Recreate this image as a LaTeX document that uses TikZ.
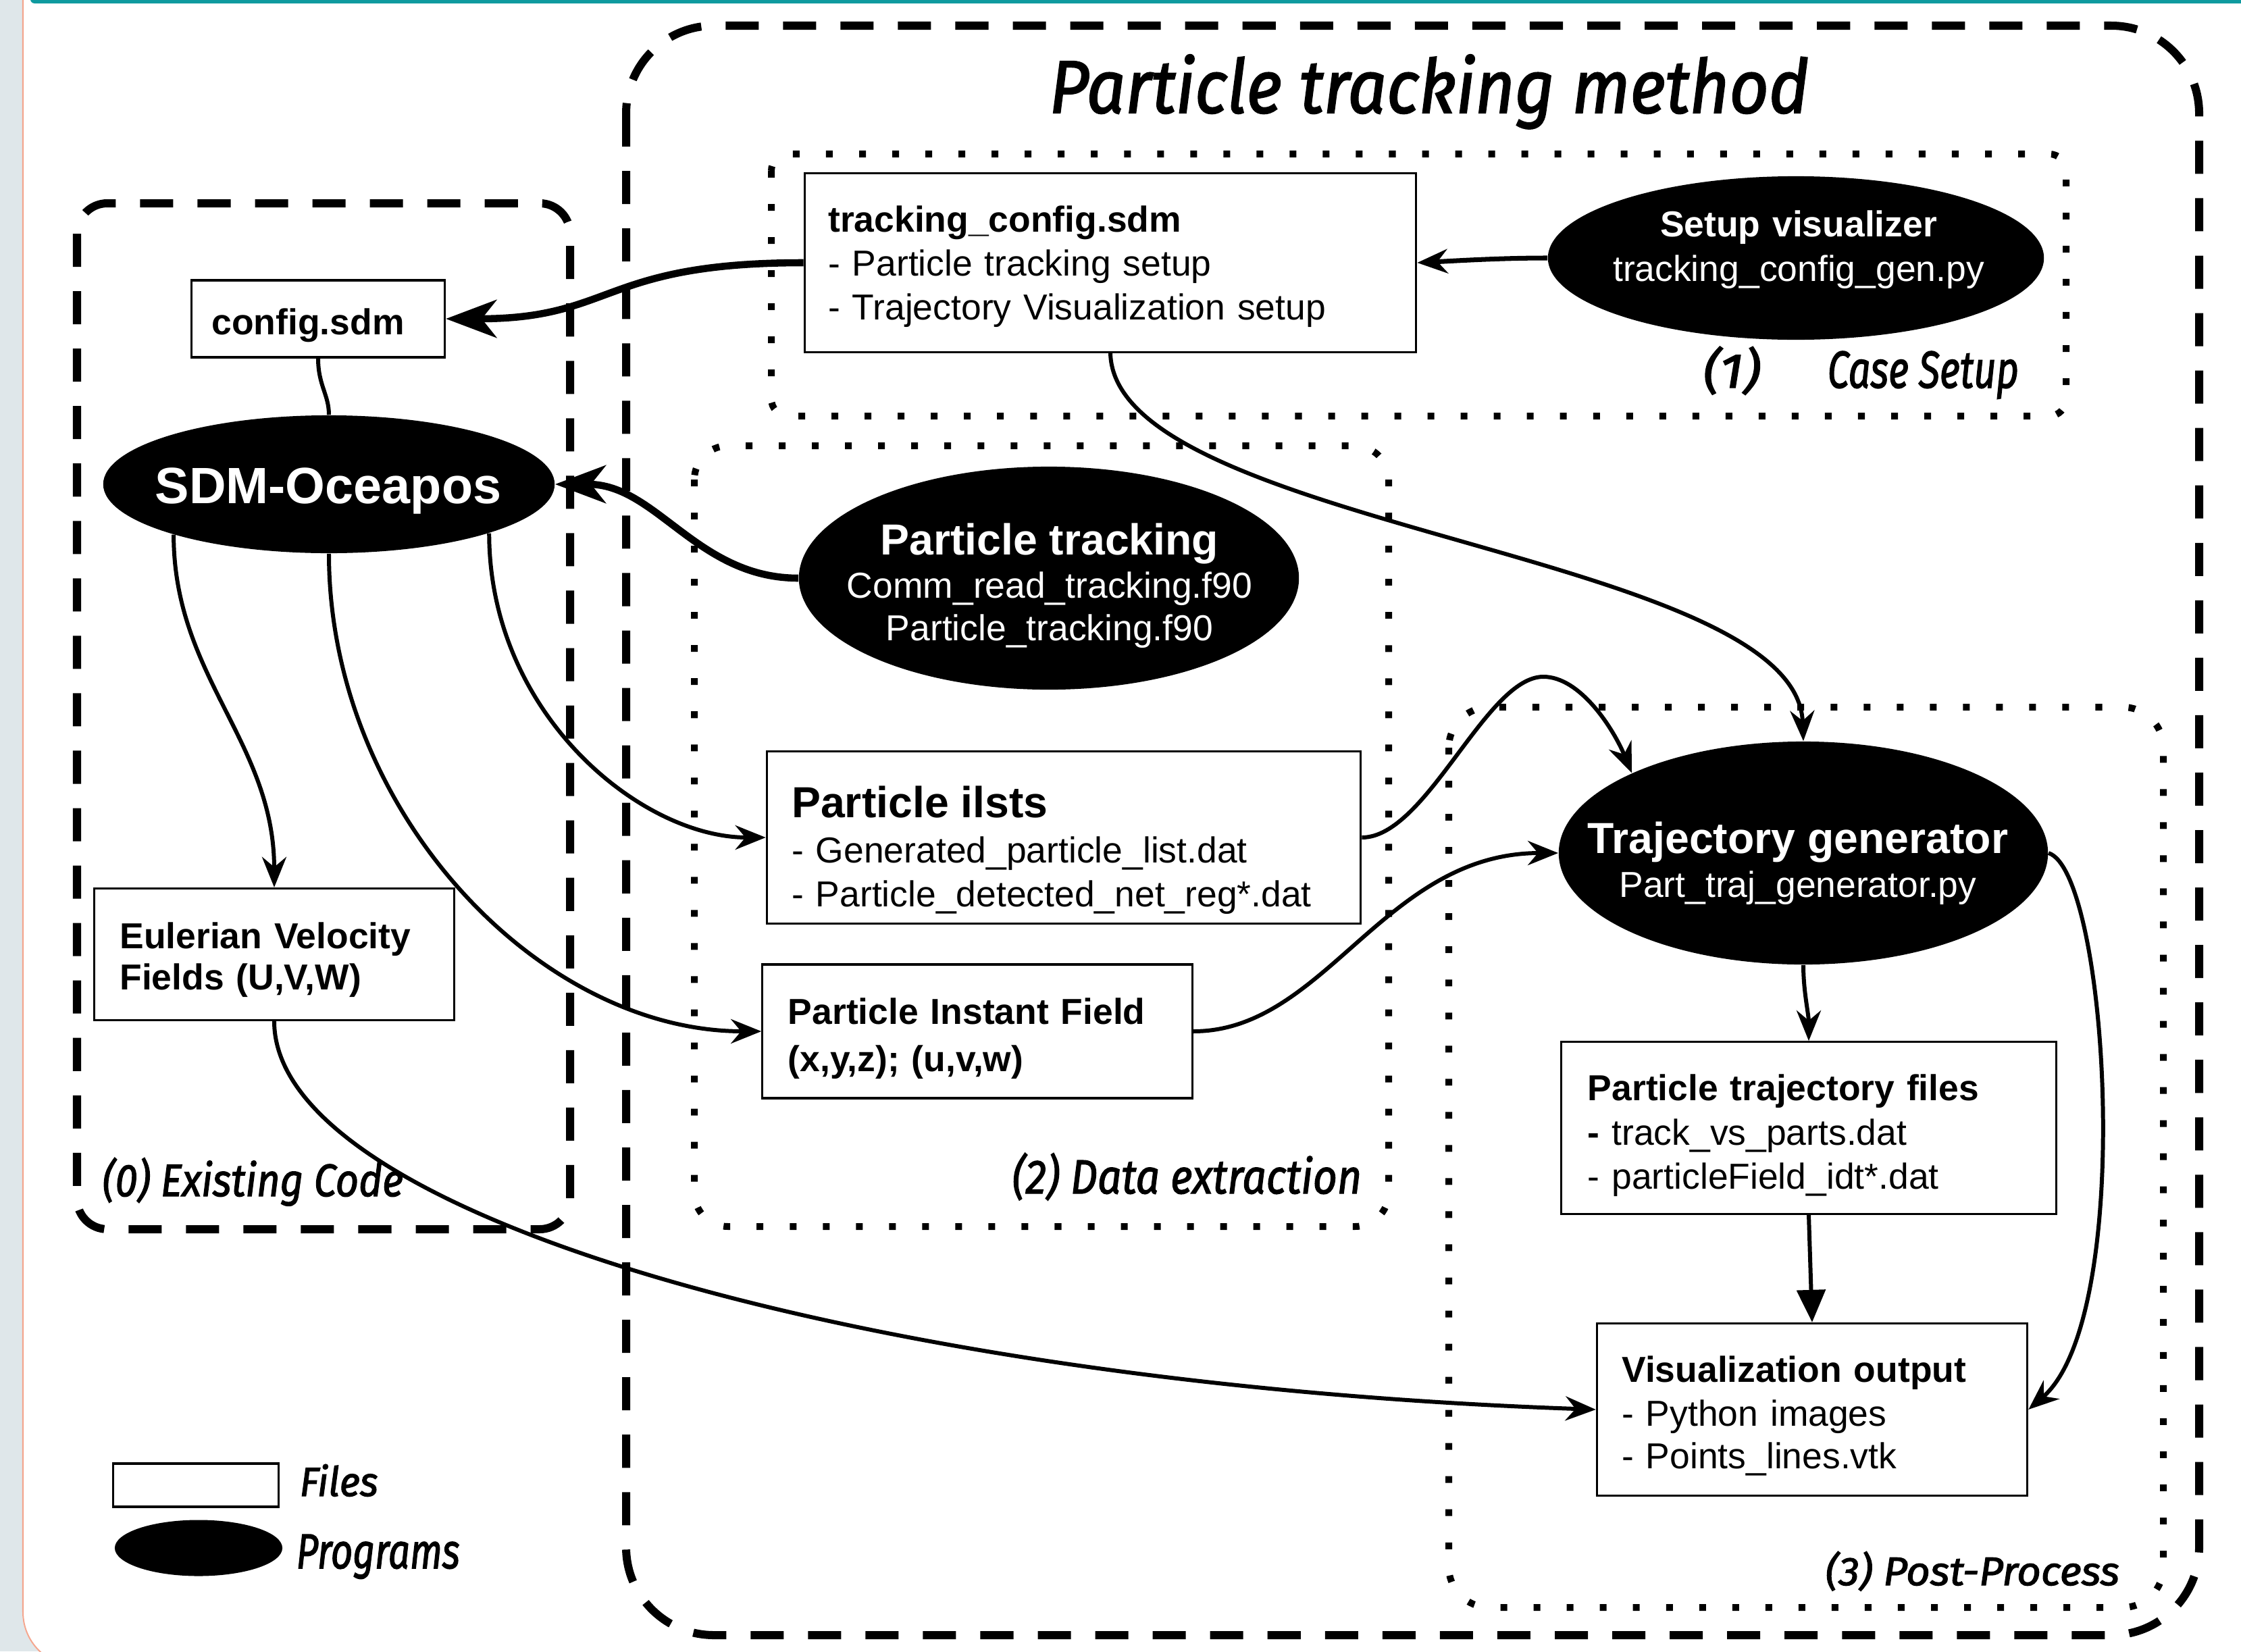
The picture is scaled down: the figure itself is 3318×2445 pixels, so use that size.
\documentclass[tikz,border=0pt]{standalone}
\usepackage{fontspec}
\setmainfont{Liberation Sans}
\newfontfamily\handfont{Fira Sans}[ItalicFeatures={FakeBold=2}]
\usetikzlibrary{arrows.meta,shapes.geometric}
\definecolor{stripcol}{RGB}{223,231,234}
\definecolor{edgecol}{RGB}{244,166,142}
\definecolor{topcol}{RGB}{14,154,159}
\newcommand\hwtext[3]{\resizebox{#1}{#2}{\handfont\itshape #3}}
\newcommand\topsp[1]{\rule{0pt}{#1}}
\newcommand\botsp[1]{\rule[-#1]{0pt}{#1}}
\begin{document}
\begin{tikzpicture}[x=0.01cm,y=-0.01cm,
  filebox/.style={draw, line width=0.9pt, fill=white, inner ysep=0pt, align=left,
    font=\fontsize{15.2}{18.4}\selectfont},
  prog/.style={ellipse, fill=black, inner sep=0pt},
  progtext/.style={text=white, align=center, inner sep=0pt, anchor=base,
    font=\fontsize{15.2}{18.4}\selectfont},
  bigdash/.style={line width=0.12cm, dash pattern=on 0.49cm off 0.36cm},
  dotbox/.style={line width=0.1cm, dash pattern=on 0.1cm off 0.39cm},
  hand/.style={inner sep=0pt, anchor=base west},
  conn/.style={line width=1.7pt, -{Stealth[length=0.45cm,width=0.36cm,inset=0.15cm]}},
  thickconn/.style={line width=3pt, -{Stealth[length=0.75cm,width=0.56cm,inset=0.22cm]}},
  plainconn/.style={line width=1.7pt}
]
\useasboundingbox (0,0) rectangle (3318,2445);
\clip (0,0) rectangle (3318,2445);
% page background
\fill[stripcol] (0,0) rectangle (3318,2445);
\fill[white, rounded corners=0.8cm] (33,-200) rectangle (3600,2467);
\draw[edgecol, line width=0.02cm, rounded corners=0.8cm] (34,-200) rectangle (3600,2467);
\fill[topcol, rounded corners=0.06cm] (45,-50) rectangle (3600,5);

% group frames
\draw[bigdash, rounded corners=1.3cm] (927,38) rectangle (3256,2421);
\draw[bigdash, rounded corners=0.45cm] (114,301) rectangle (844,1820);
\draw[dotbox, rounded corners=0.25cm] (1142,228) rectangle (3059,616);
\draw[dotbox, rounded corners=0.5cm] (1028,660) rectangle (2056,1816);
\draw[dotbox, rounded corners=0.6cm] (2145,1047) rectangle (3203,2380);

% group labels
\node[hand] (title) at (1553,167) {\hwtext{11.24cm}{0.86cm}{Particle tracking method}};
\node[hand] (lab1n) at (2521,574) {\hwtext{0.85cm}{0.61cm}{(1)}};
\node[hand] (lab1) at (2705,574) {\hwtext{2.83cm}{0.54cm}{Case Setup}};
\node[hand] (lab0) at (151,1771) {\hwtext{4.45cm}{0.57cm}{(0) Existing Code}};
\node[hand] (lab2) at (1498,1767) {\hwtext{5.17cm}{0.6cm}{(2) Data extraction}};
\node[hand] (lab3) at (2702,2347) {\hwtext{4.35cm}{0.5cm}{(3) Post-Process}};

% file boxes
\node[filebox, text width=3.15cm, inner xsep=0.3cm, minimum width=3.75cm, minimum height=1.14cm] (CF) at (471,472)
  {\topsp{0.80cm}\textbf{config.sdm}\botsp{0.34cm}};
\node[filebox, text width=8.35cm, inner xsep=0.35cm, minimum width=9.05cm, minimum height=2.64cm] (TC) at (1644,389)
  {\topsp{0.87cm}\textbf{tracking\_config.sdm}\\- Particle tracking setup\\- Trajectory Visualization setup\botsp{0.48cm}};
\node[filebox, text width=8.05cm, inner xsep=0.37cm, minimum width=8.79cm, minimum height=2.55cm] (PI) at (1575,1240)
  {\topsp{0.98cm}{\fontsize{18.3}{22}\selectfont\bfseries Particle ilsts}\\[0.6pt]- Generated\_particle\_list.dat\\- Particle\_detected\_net\_reg*.dat\botsp{0.25cm}};
\node[filebox, text width=5.60cm, inner xsep=0.38cm, minimum width=6.36cm, minimum height=1.98cm] (PIF) at (1447,1527)
  {\topsp{0.88cm}\textbf{Particle Instant Field}\\[1.5pt]\textbf{(x,y,z); (u,v,w)}\botsp{0.40cm}};
\node[filebox, text width=4.57cm, inner xsep=0.38cm, minimum width=5.33cm, minimum height=1.95cm] (EV) at (406,1413)
  {\topsp{0.89cm}\textbf{Eulerian Velocity}\\[-1.1pt]\textbf{Fields (U,V,W)}\botsp{0.45cm}};
\node[filebox, text width=6.54cm, inner xsep=0.39cm, minimum width=7.32cm, minimum height=2.54cm] (PTF) at (2678,1670)
  {\topsp{0.87cm}\textbf{Particle trajectory files}\\[0.3pt]\textbf{-} track\_vs\_parts.dat\\- particleField\_idt*.dat\botsp{0.37cm}};
\node[filebox, text width=5.63cm, inner xsep=0.37cm, minimum width=6.37cm, minimum height=2.55cm] (VO) at (2683,2087)
  {\topsp{0.86cm}\textbf{Visualization output}\\[0.3pt]- Python images\\[-0.5pt]- Points\_lines.vtk\botsp{0.39cm}};

% programs
\node[prog, minimum width=6.68cm, minimum height=2.04cm] (SDM) at (487,717) {};
\node[progtext, text width=6cm] (SDMt) at (486,745) {\fontsize{21.5}{24}\selectfont\bfseries SDM-Oceapos};
\node[prog, minimum width=7.34cm, minimum height=2.42cm] (SV) at (2659,382) {};
\node[progtext, text width=7cm] (SVt) at (2663,350) {\textbf{Setup visualizer}\\[0.6pt]tracking\_config\_gen.py};
\node[prog, minimum width=7.40cm, minimum height=3.30cm] (PT) at (1553,856) {};
\node[progtext, text width=7cm] (PTt) at (1554,821) {{\fontsize{18.3}{22}\selectfont\bfseries Particle tracking}\\Comm\_read\_tracking.f90\\[-0.5pt]Particle\_tracking.f90};
\node[prog, minimum width=7.24cm, minimum height=3.30cm] (TG) at (2670,1263) {};
\node[progtext, text width=7cm] (TGt) at (2662,1263) {{\fontsize{18.3}{22}\selectfont\bfseries Trajectory generator}\\[0.3pt]Part\_traj\_generator.py};

% legend
\node[filebox, minimum width=2.45cm, minimum height=0.64cm, inner sep=0pt] (LF) at (290,2199) {};
\node[prog, minimum width=2.48cm, minimum height=0.83cm] (LP) at (294,2292) {};
\node[hand] (lfiles) at (443,2215) {\hwtext{1.16cm}{0.47cm}{Files}};
\node[hand] (lprog) at (438,2322) {\hwtext{2.42cm}{0.50cm}{Programs}};

% connectors
\coordinate (hump) at (2285,1002);
\draw[thickconn] (TC.west) .. controls +(-300,0) and +(250,0) .. (CF.east);
\draw[conn, line width=2pt] (SV.west) .. controls +(-70,0) and +(60,-3) .. (TC.east);
\draw[conn] (TC.south) .. controls +(6,260) and +(-10,-280) .. (TG.north);
\draw[plainconn] (CF.south) .. controls +(0,40) and +(0,-30) .. (SDM.north);
\draw[thickconn] (PT.west) .. controls +(-150,0) and +(150,0) .. (SDM.east);
\draw[conn] (SDM.198) .. controls +(0,210) and +(0,-216) .. (EV.north);
\draw[conn] (SDM.south) .. controls +(0,380) and +(-330,0) .. (PIF.west);
\draw[conn] (SDM.-17.5) .. controls +(0,267) and +(-185,0) .. (PI.west);
\draw[conn] (EV.south) .. controls +(0,289) and +(-1064,-37) .. (VO.west);
\draw[conn] (PI.east) .. controls +(96,0) and +(-85,0) .. (hump) .. controls +(55,0) and +(-27,-65) .. (TG.155);
\draw[conn] (PIF.east) .. controls +(195,0) and +(-258,0) .. (TG.west);
\draw[conn] (TG.south) .. controls +(0,40) and +(0,-40) .. (PTF.north);
\draw[line width=1.7pt, -{Triangle[length=0.48cm,width=0.42cm]}] (PTF.south) -- (VO.north);
\draw[conn] (TG.east) .. controls +(88,27) and +(159,-137) .. (VO.east);
\end{tikzpicture}
\end{document}
